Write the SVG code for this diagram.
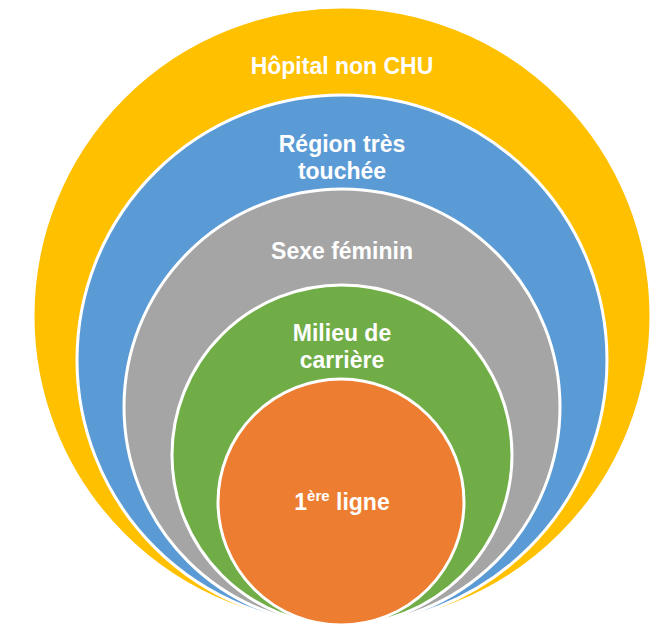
<svg xmlns="http://www.w3.org/2000/svg" width="657" height="626" viewBox="0 0 657 626">
<style>
.ring{stroke:#FFFFFF;stroke-width:3}
.lbl{font-family:"Liberation Sans",Arial,sans-serif;font-weight:bold;font-size:23px;fill:#FFFFFF;text-anchor:middle}
</style>
<rect width="657" height="626" fill="#FFFFFF"/>
<g id="hopital">
<circle class="ring" cx="342" cy="316" r="309" fill="#FFC000"/>
<text class="lbl" x="342" y="74">Hôpital non CHU</text>
</g>
<g id="region">
<circle class="ring" cx="342" cy="360" r="265" fill="#5B9BD5"/>
<text class="lbl" x="342" y="152">Région très</text>
<text class="lbl" x="342" y="179">touchée</text>
</g>
<g id="sexe">
<circle class="ring" cx="342" cy="407" r="218" fill="#A5A5A5"/>
<text class="lbl" x="342" y="259">Sexe féminin</text>
</g>
<g id="milieu">
<circle class="ring" cx="342" cy="455" r="170" fill="#70AD47"/>
<text class="lbl" x="342" y="341">Milieu de</text>
<text class="lbl" x="342" y="368">carrière</text>
</g>
<g id="ligne">
<circle class="ring" cx="341" cy="502" r="123" fill="#ED7D31"/>
<text class="lbl" x="342" y="510">1<tspan font-size="15" dy="-9">ère</tspan><tspan dy="9"> ligne</tspan></text>
</g>
<g id="connectors"/>
</svg>
